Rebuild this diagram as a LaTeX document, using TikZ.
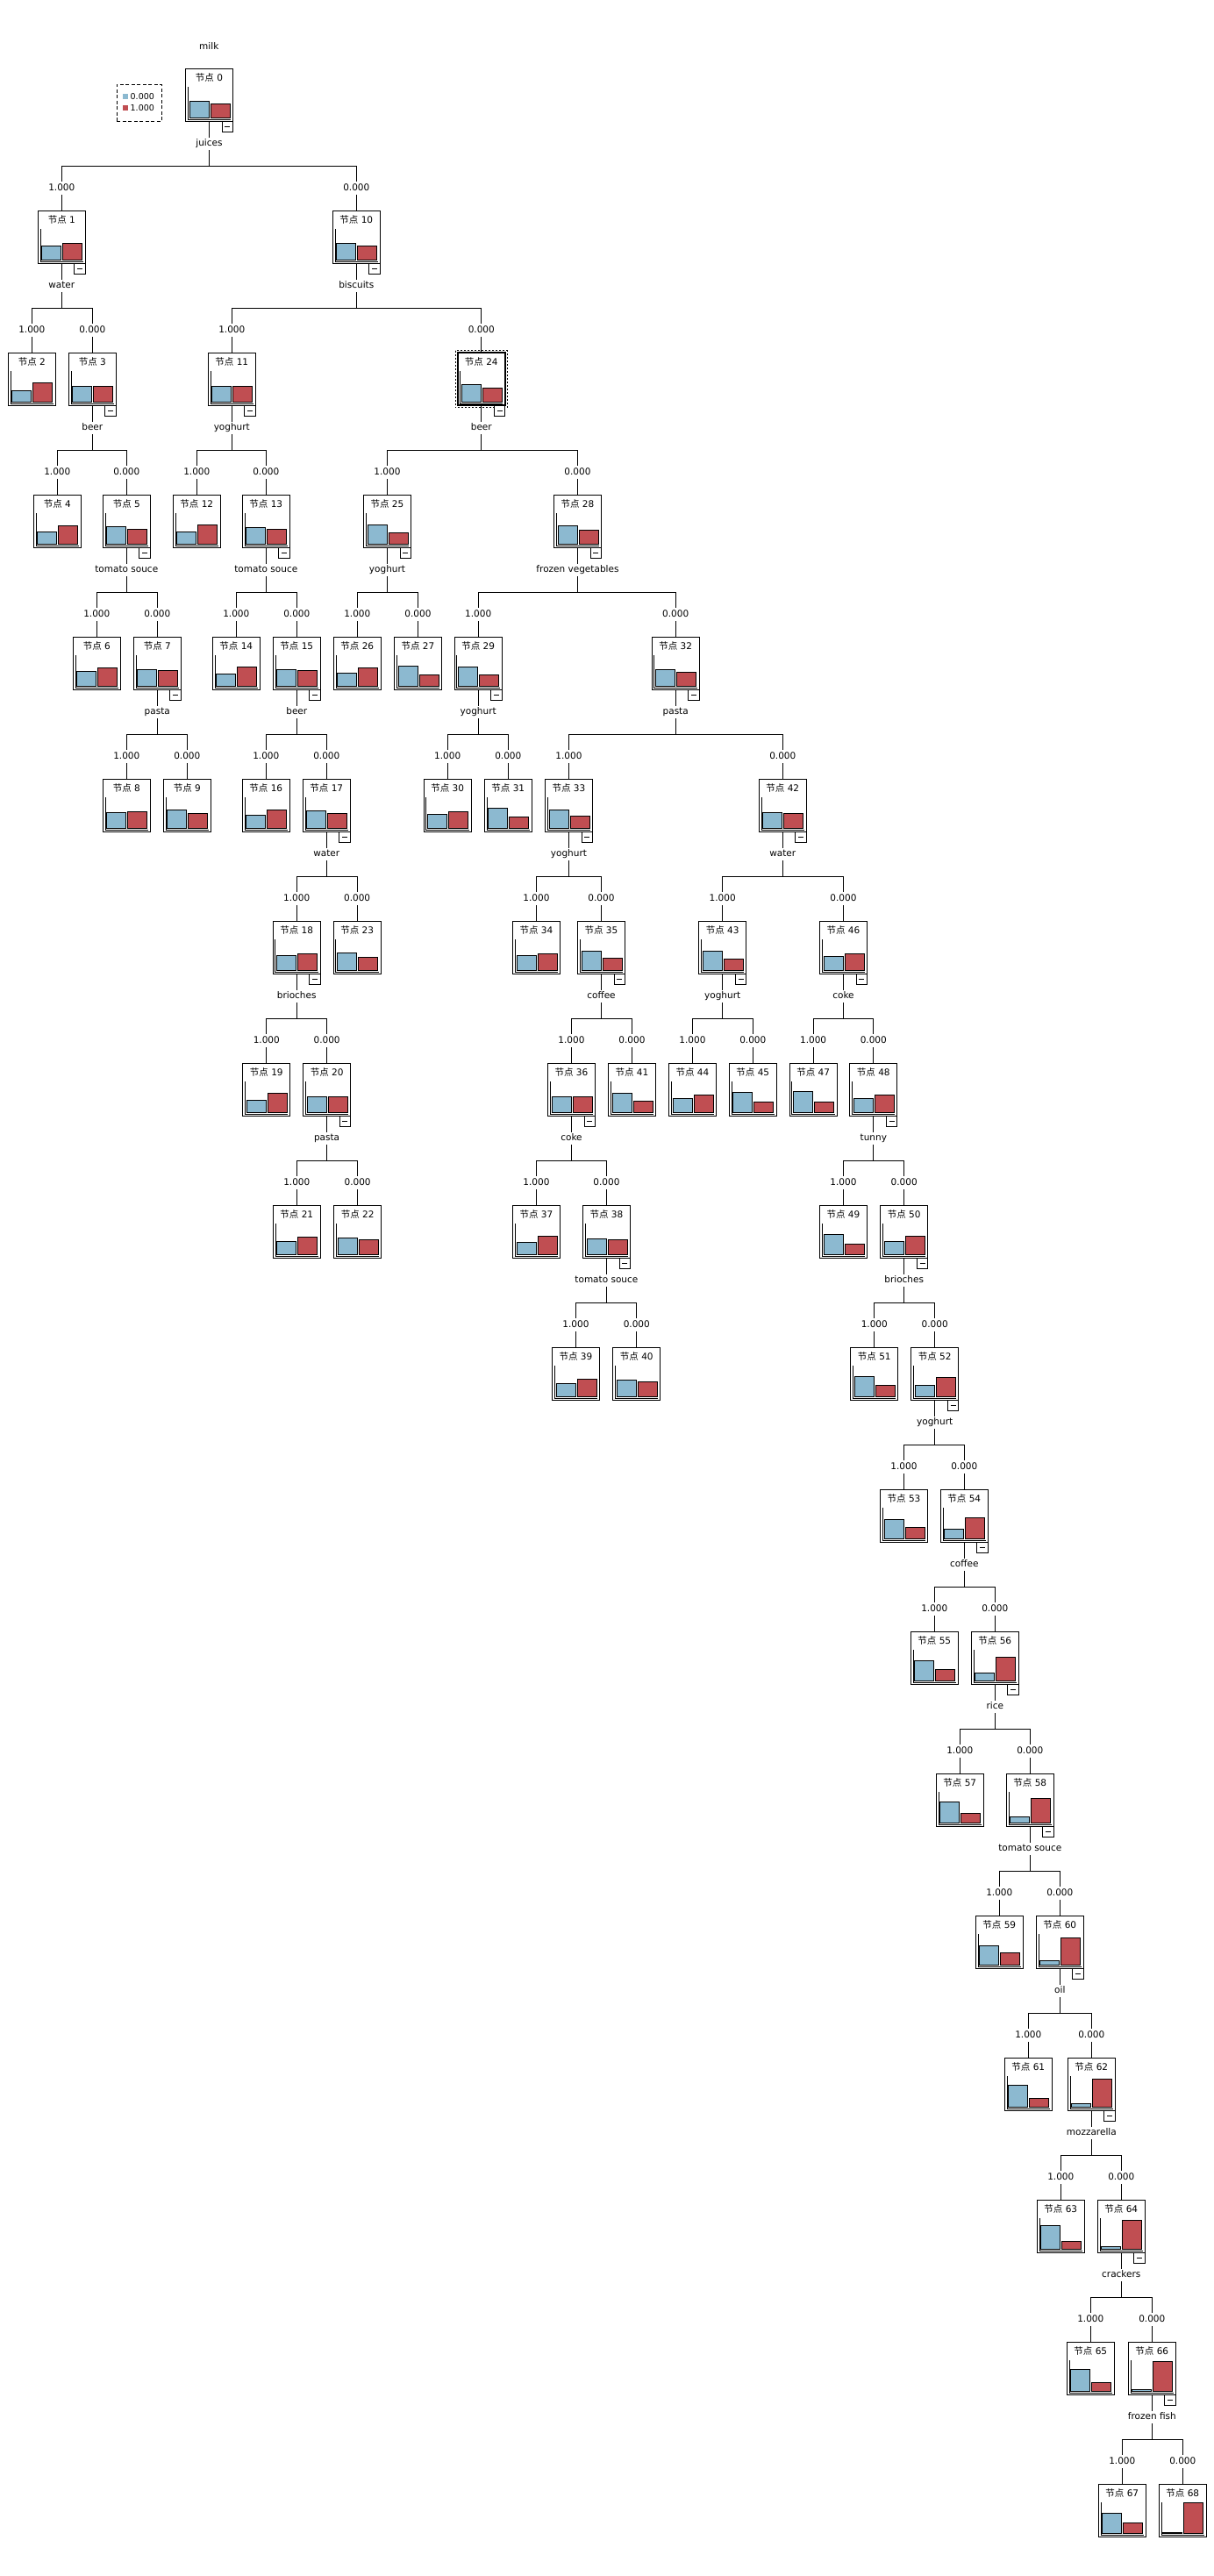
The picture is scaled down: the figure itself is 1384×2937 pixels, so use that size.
\documentclass[tikz,border=0pt]{standalone}
\usepackage{fontspec}
\setmainfont{DejaVu Sans}
\newfontfamily\cjk{Noto Sans CJK SC}
\usetikzlibrary{calc}
\definecolor{barblue}{RGB}{140,185,208}
\definecolor{barred}{RGB}{192,78,82}
\tikzset{
 tbox/.style={draw, line width=1pt, fill=white, minimum width=54pt, minimum height=60pt, inner sep=0pt, outer sep=0pt},
 ttitle/.style={anchor=base, inner sep=0pt, font=\fontsize{10.5}{12}\selectfont},
 bblue/.style={draw, line width=0.9pt, fill=barblue},
 bred/.style={draw, line width=0.9pt, fill=barred},
 axisline/.style={line width=0.9pt},
 conn/.style={line width=1pt},
 lbl/.style={fill=white, font=\fontsize{10.5}{12}\selectfont, inner xsep=1pt, inner ysep=2.5pt, text height=7.7pt, text depth=2pt},
 minusbox/.style={draw, line width=1pt, fill=white},
 legtext/.style={anchor=west, inner sep=0pt, font=\fontsize{9.5}{11}\selectfont},
}
\newcommand\TN[5]{%
 \pgfmathsetmacro\myx{#2-27}%
 \pgfmathsetmacro\myy{78.3+162*#3}%
 \node[tbox] (n#1) at (#2,{\myy+30}) {};
 \node[ttitle] (t#1) at (#2,{\myy+14.3}) {{\cjk 节点} #1};
 \draw[axisline] ({\myx+2.7},{\myy+20.7}) -- ({\myx+2.7},{\myy+57.8}) -- ({\myx+51.6},{\myy+57.8});
 \draw[bblue] ({\myx+4.6},{\myy+56}) rectangle ({\myx+26.6},{\myy+56-#4});
 \draw[bred] ({\myx+28.6},{\myy+56}) rectangle ({\myx+50.6},{\myy+56-#5});
}
\newcommand\MB[1]{%
 \draw[minusbox] ($(n#1.south east)+(-12.4,0)$) rectangle ++(12.4,12.4);
 \draw[line width=0.9pt] ($(n#1.south east)+(-9.2,6.2)$) -- ++(6,0);
}
\newcommand\SPLIT[4]{%
 \draw[conn] (n#1.south) -- ++(0,51) -| (n#2.north);
 \draw[conn] (n#1.south) -- ++(0,51) -| (n#3.north);
 \node[lbl] (s#1) at ($(n#1.south)+(0,25.7)$) {#4};
 \node[lbl] (v#2) at ($(n#2.north)+(0,-26)$) {1.000};
 \node[lbl] (v#3) at ($(n#3.north)+(0,-26)$) {0.000};
}
\begin{document}
\begin{tikzpicture}[x=1pt,y=-1pt]
\useasboundingbox (0,0) rectangle (1384,2937);
% title and legend
\node[font=\fontsize{10.5}{12}\selectfont, inner sep=0pt] (milk) at (238.3,52.7) {milk};
\node[draw, dash pattern=on 4pt off 2.5pt, line width=0.9pt, minimum width=51pt, minimum height=42pt, inner sep=0pt] (legend) at (158.8,117.3) {};
\fill[barblue] (140,107.3) rectangle (145.7,113);
\fill[barred] (140,120) rectangle (145.7,125.7);
\node[legtext] (l0) at (148.5,110.2) {0.000};
\node[legtext] (l1) at (148.5,123) {1.000};
% nodes
\TN{0}{238.5}{0}{19}{16}
\TN{1}{70.3}{1}{15.7}{18.7}
\TN{10}{406.3}{1}{18.7}{15.7}
\TN{2}{36.3}{2}{13}{22}
\TN{3}{105.3}{2}{18.2}{18.2}
\TN{11}{264.3}{2}{18.2}{18.2}
\TN{24}{548.8}{2}{20}{16}
\TN{4}{65.3}{3}{14.2}{21.1}
\TN{5}{144.3}{3}{19.6}{17.1}
\TN{12}{224.3}{3}{14.2}{22.2}
\TN{13}{303.3}{3}{18.5}{17.1}
\TN{25}{441.5}{3}{22.2}{13.1}
\TN{28}{658.5}{3}{20.4}{16}
\TN{6}{110.3}{4}{16.4}{20.4}
\TN{7}{179.3}{4}{19.3}{17.4}
\TN{14}{269.3}{4}{14.2}{21.4}
\TN{15}{338.3}{4}{19.3}{17.4}
\TN{26}{407.3}{4}{15.3}{20.7}
\TN{27}{476.5}{4}{22.5}{12.7}
\TN{29}{545.2}{4}{21.8}{12.7}
\TN{32}{770.2}{4}{18.9}{16}
\TN{8}{144.3}{5}{17.8}{18.9}
\TN{9}{213.3}{5}{20.7}{16.7}
\TN{16}{303.3}{5}{15.3}{20.7}
\TN{17}{372.3}{5}{19.6}{16.7}
\TN{30}{510.2}{5}{16}{18.9}
\TN{31}{579.3}{5}{22.9}{13.1}
\TN{33}{648.4}{5}{21.1}{14.2}
\TN{42}{892.3}{5}{18.2}{17.1}
\TN{18}{338.2}{6}{17}{19}
\TN{23}{407.1}{6}{20}{15}
\TN{34}{611.4}{6}{17}{19}
\TN{35}{685.5}{6}{22.3}{14}
\TN{43}{823.7}{6}{22.3}{13}
\TN{46}{961.5}{6}{16}{19}
\TN{19}{303.8}{7}{14}{22}
\TN{20}{372.6}{7}{18}{18}
\TN{36}{651.5}{7}{18}{18}
\TN{41}{720.5}{7}{22}{13}
\TN{44}{789.4}{7}{16}{20}
\TN{45}{858.3}{7}{23}{12}
\TN{47}{927.1}{7}{24}{12}
\TN{48}{995.8}{7}{16}{20}
\TN{21}{338.3}{8}{15}{20.3}
\TN{22}{407.6}{8}{19}{17}
\TN{37}{611.5}{8}{14}{21.3}
\TN{38}{691.4}{8}{18}{17}
\TN{49}{961.4}{8}{23}{12}
\TN{50}{1030.7}{8}{15}{21.3}
\TN{39}{656.4}{9}{15.3}{20.3}
\TN{40}{725.8}{9}{19.3}{17.3}
\TN{51}{996.8}{9}{23.3}{13.3}
\TN{52}{1065.7}{9}{13.3}{22.3}
\TN{53}{1030.5}{10}{22}{13}
\TN{54}{1099.3}{10}{11}{24}
\TN{55}{1065.3}{11}{23.3}{13.3}
\TN{56}{1134.3}{11}{9.3}{27.3}
\TN{57}{1094.3}{12}{24}{11}
\TN{58}{1174.3}{12}{7}{28}
\TN{59}{1139.3}{13}{22}{14}
\TN{60}{1208.3}{13}{5}{31}
\TN{61}{1172.3}{14}{25.3}{10.3}
\TN{62}{1244.3}{14}{4.3}{32.3}
\TN{63}{1209.3}{15}{27}{9}
\TN{64}{1278.3}{15}{3}{33}
\TN{65}{1243.3}{16}{25.3}{10}
\TN{66}{1313.3}{16}{2.3}{34.3}
\TN{67}{1279.3}{17}{23}{12}
\TN{68}{1348.3}{17}{1}{35}
% selected node 24
\draw[line width=2.3pt] (n24.south west) rectangle (n24.north east);
\draw[line width=0.8pt, dash pattern=on 2pt off 2pt] ($(n24.north west)+(-2.5,-2.5)$) rectangle ($(n24.south east)+(2.5,2.5)$);
% splits
\SPLIT{0}{1}{10}{juices}
\SPLIT{1}{2}{3}{water}
\SPLIT{3}{4}{5}{beer}
\SPLIT{5}{6}{7}{tomato souce}
\SPLIT{7}{8}{9}{pasta}
\SPLIT{10}{11}{24}{biscuits}
\SPLIT{11}{12}{13}{yoghurt}
\SPLIT{13}{14}{15}{tomato souce}
\SPLIT{15}{16}{17}{beer}
\SPLIT{17}{18}{23}{water}
\SPLIT{18}{19}{20}{brioches}
\SPLIT{20}{21}{22}{pasta}
\SPLIT{24}{25}{28}{beer}
\SPLIT{25}{26}{27}{yoghurt}
\SPLIT{28}{29}{32}{frozen vegetables}
\SPLIT{29}{30}{31}{yoghurt}
\SPLIT{32}{33}{42}{pasta}
\SPLIT{33}{34}{35}{yoghurt}
\SPLIT{35}{36}{41}{coffee}
\SPLIT{36}{37}{38}{coke}
\SPLIT{38}{39}{40}{tomato souce}
\SPLIT{42}{43}{46}{water}
\SPLIT{43}{44}{45}{yoghurt}
\SPLIT{46}{47}{48}{coke}
\SPLIT{48}{49}{50}{tunny}
\SPLIT{50}{51}{52}{brioches}
\SPLIT{52}{53}{54}{yoghurt}
\SPLIT{54}{55}{56}{coffee}
\SPLIT{56}{57}{58}{rice}
\SPLIT{58}{59}{60}{tomato souce}
\SPLIT{60}{61}{62}{oil}
\SPLIT{62}{63}{64}{mozzarella}
\SPLIT{64}{65}{66}{crackers}
\SPLIT{66}{67}{68}{frozen fish}
% collapse boxes
\foreach \i in {0,1,3,5,7,10,11,13,15,17,18,20,24,25,28,29,32,33,35,36,38,42,43,46,48,50,52,54,56,58,60,62,64,66} {\MB{\i}}
\end{tikzpicture}
\end{document}
